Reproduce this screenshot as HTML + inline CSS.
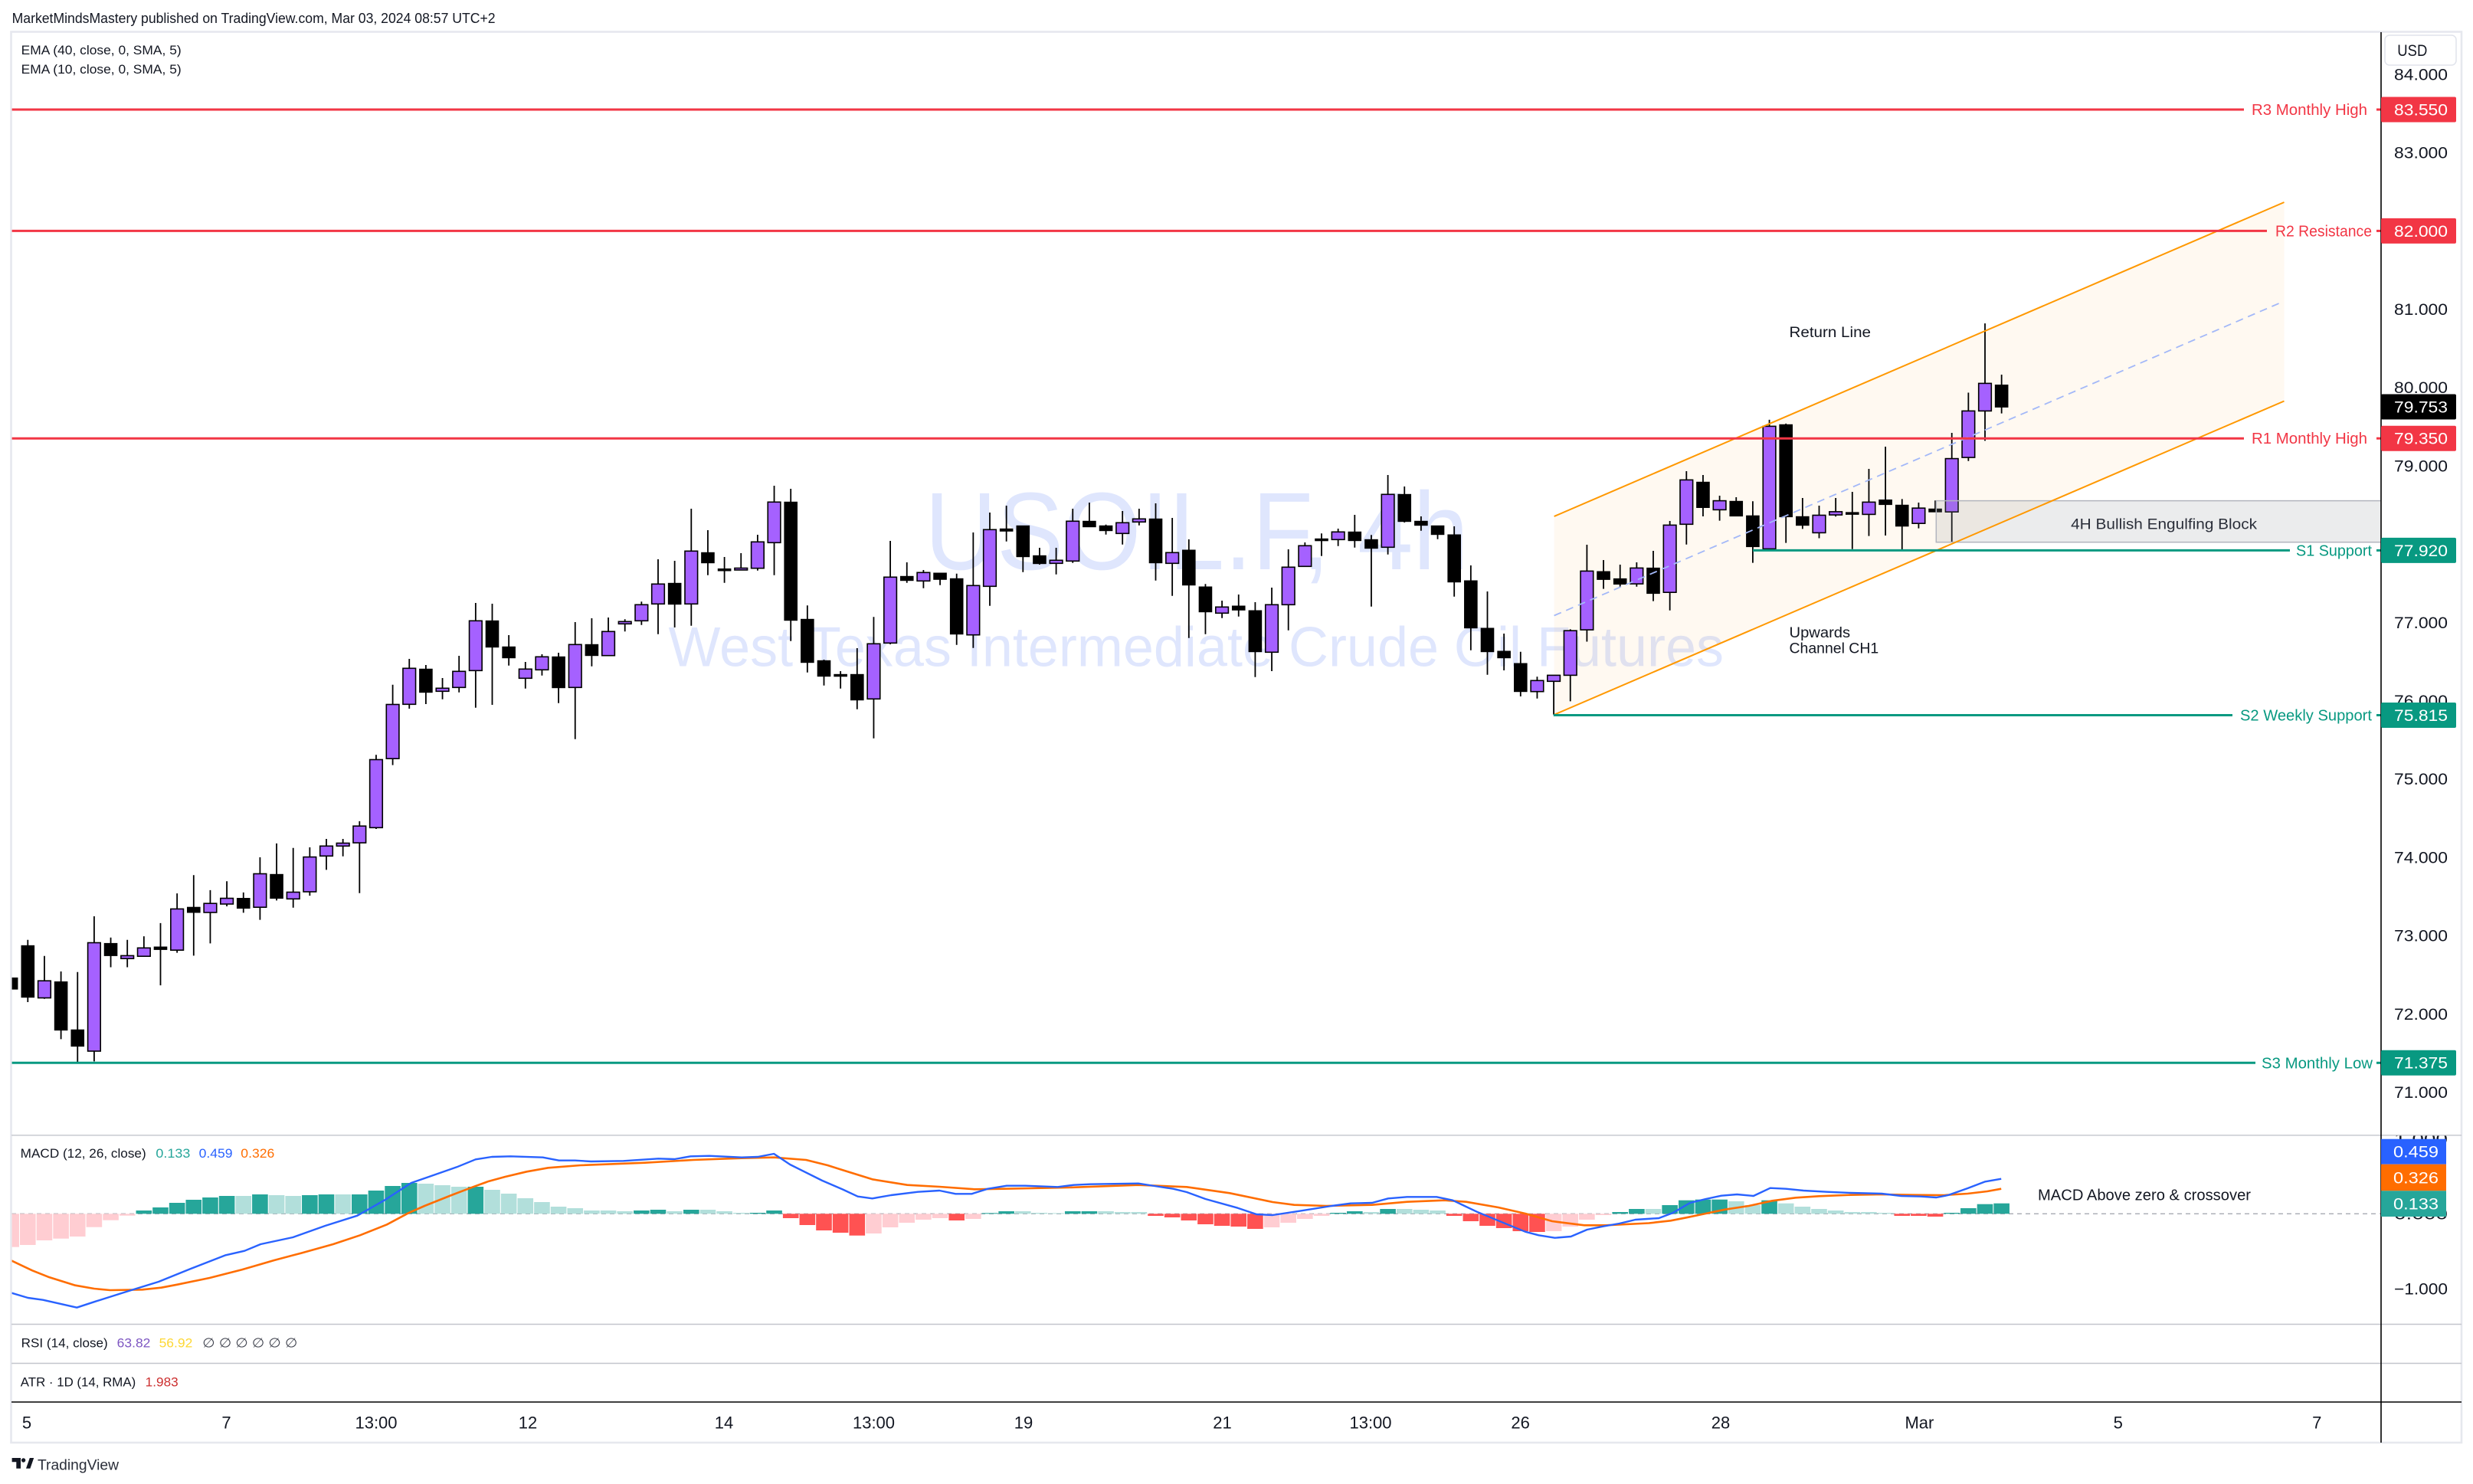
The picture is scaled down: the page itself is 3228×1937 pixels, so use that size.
<!DOCTYPE html>
<html><head><meta charset="utf-8"><title>USOIL.F 4h</title>
<style>
html,body{margin:0;padding:0;background:#fff;overflow:hidden}
svg{display:block}
text{font-family:"Liberation Sans",sans-serif}
</style></head>
<body>
<svg xmlns="http://www.w3.org/2000/svg" width="3228" height="1937" viewBox="0 0 3228 1937">
<defs>
<clipPath id="mainclip"><rect x="15.6" y="42" width="3092.4" height="1439"/></clipPath>
<clipPath id="macdclip"><rect x="15.6" y="1482.5" width="3092.4" height="245.5"/></clipPath>
<clipPath id="macdaxis"><rect x="3108" y="1482.5" width="105" height="245.5"/></clipPath>
</defs>
<rect x="0" y="0" width="3228" height="1937" fill="#fff"/>

<!-- header -->
<text x="15.6" y="29.8" font-size="18" fill="#131722" textLength="631" lengthAdjust="spacingAndGlyphs">MarketMindsMastery published on TradingView.com, Mar 03, 2024 08:57 UTC+2</text>

<!-- frame -->
<rect x="14.5" y="41.5" width="3198.5" height="1841.5" fill="none" stroke="#e6e8ee" stroke-width="2.6"/>

<!-- ===== MAIN PANE ===== -->
<g clip-path="url(#mainclip)">
  <!-- watermark -->
  <text x="1207" y="743" font-size="144" fill="#dfe6fd" textLength="710" lengthAdjust="spacingAndGlyphs">USOIL.F, 4h</text>
  <text x="872.5" y="869.6" font-size="73" fill="#dfe6fd" textLength="1377.5" lengthAdjust="spacingAndGlyphs">West Texas Intermediate Crude Oil Futures</text>

  <!-- channel fill -->
  <polygon points="2028.6,674 2981.5,264 2981.5,523.5 2028.6,932.9" fill="#ff9800" fill-opacity="0.055"/>

  <!-- candles: wicks -->
  <path fill="none" stroke="#000" stroke-width="1.8" d="M14.65 1276.4V1291.1M36.3 1226.8V1308M57.95 1247.8V1303.8M79.6 1268V1356.4M101.25 1268.8V1387.1M122.9 1196V1385.4M144.55 1223.8V1262.5M166.2 1226.8V1262.5M187.85 1222.1V1248.2M209.5 1204.9V1286.1M231.15 1166.1V1243.6M252.8 1142.2V1247.4M274.45 1161.9V1231.4M296.1 1150.2V1183M317.75 1164.9V1191.4M339.4 1119V1200.6M361.05 1100.9V1175.4M382.7 1106.8V1184.7M404.35 1106V1169.1M426 1095V1135.4M447.65 1095V1117.7M469.3 1071.9V1165.7M490.95 985.2V1082M512.6 893.8V998.6M534.25 860V925M555.9 868V919M577.55 885V912.7M599.2 856V903.7M620.85 787V923.7M642.5 788V920M664.15 829V868.7M685.8 864V898.7M707.45 854V881.7M729.1 852V917.7M750.75 812V964.7M772.4 807V869.7M794.05 806V856.3M815.7 808.3V824.3M837.35 785.3V815.7M859 730V827.7M880.65 732V819M902.3 664V816.7M923.95 692V750.7M945.6 727V760.7M967.25 722V743.7M988.9 698V744.7M1010.55 634V750.7M1032.2 638V836.7M1053.85 790.3V877.7M1075.5 861V894.7M1097.15 876V898.7M1118.8 846V925.7M1140.45 805.3V963.7M1162.1 706V841M1183.75 734V760.7M1205.4 744V767.7M1227.05 748V763.7M1248.7 748.7V841.7M1270.35 695V845.7M1292 669V790.7M1313.65 660V706.7M1335.3 686V746.7M1356.95 715V737M1378.6 715V749.7M1400.25 664V734.7M1421.9 656V687.7M1443.55 684.7V697.7M1465.2 667V710.7M1486.85 664V685.7M1508.5 657V757.7M1530.15 676V777.7M1551.8 704V832.7M1573.45 762.3V827.7M1595.1 784V806.7M1616.75 776V804.7M1638.4 786V883.7M1660.05 767V876M1681.7 717V822.7M1703.35 708V739.3M1725 696.3V725.7M1746.65 690V712.7M1768.3 672V714.7M1789.95 698.3V791.7M1811.6 620V723.7M1833.25 635V682M1854.9 674V692.7M1876.55 686V703.7M1898.2 687V778.7M1919.85 738V848.7M1941.5 772V880.7M1963.15 827V875M1984.8 850.7V909M2006.45 883.3V911.7M2028.1 881.4V932.9M2049.75 821.4V915.4M2071.4 711V837.5M2093.05 731V768.6M2114.7 737V766M2136.35 734V765.7M2158 719V784.6M2179.65 680V796.8M2201.3 615V710.7M2222.95 620V674M2244.6 647V679.6M2266.25 649V673.6M2287.9 654.3V734.6M2309.55 547.9V719.3M2331.2 552.9V708.6M2352.85 650V690.4M2374.5 660V702.5M2396.15 650V674.3M2417.8 642V716.8M2439.45 612V699.6M2461.1 583V699M2482.75 651.4V718.6M2504.4 656V689.6M2526.05 653.2V668.2M2547.7 565V707M2569.35 512.5V601.8M2591 422.1V575.4M2612.65 489V539.6"/>

  <!-- black bodies -->
  <g fill="#000" stroke="#000" stroke-width="1">
    <rect x="6.35" y="1276.4" width="16.6" height="14.7"/>
    <rect x="28" y="1234.3" width="16.6" height="67.4"/>
    <rect x="71.3" y="1281.5" width="16.6" height="63.1"/>
    <rect x="92.95" y="1344.2" width="16.6" height="21.4"/>
    <rect x="136.25" y="1231.4" width="16.6" height="16"/>
    <rect x="201.2" y="1236" width="16.6" height="3.4"/>
    <rect x="244.5" y="1184.2" width="16.6" height="6.8"/>
    <rect x="309.45" y="1172.5" width="16.6" height="13"/>
    <rect x="352.75" y="1141.3" width="16.6" height="31.2"/>
    <rect x="547.6" y="873.3" width="16.6" height="30.4"/>
    <rect x="634.2" y="810.3" width="16.6" height="34.4"/>
    <rect x="655.85" y="844.3" width="16.6" height="14.4"/>
    <rect x="720.8" y="857.3" width="16.6" height="40.4"/>
    <rect x="764.1" y="841.3" width="16.6" height="14.4"/>
    <rect x="872.35" y="761.3" width="16.6" height="27.4"/>
    <rect x="915.65" y="721.3" width="16.6" height="13.4"/>
    <rect x="937.3" y="742.5" width="16.6" height="2.5"/>
    <rect x="1023.9" y="655.3" width="16.6" height="154.4"/>
    <rect x="1045.55" y="808.3" width="16.6" height="56.4"/>
    <rect x="1067.2" y="862.3" width="16.6" height="20.4"/>
    <rect x="1088.85" y="880.3" width="16.6" height="2.5"/>
    <rect x="1110.5" y="880.3" width="16.6" height="33.4"/>
    <rect x="1175.45" y="752.3" width="16.6" height="5.4"/>
    <rect x="1218.75" y="748" width="16.6" height="8.3"/>
    <rect x="1240.4" y="755.3" width="16.6" height="72.4"/>
    <rect x="1305.35" y="690.3" width="16.6" height="3"/>
    <rect x="1327" y="686.3" width="16.6" height="40.4"/>
    <rect x="1348.65" y="725.3" width="16.6" height="10.4"/>
    <rect x="1413.6" y="680.3" width="16.6" height="7.4"/>
    <rect x="1435.25" y="686.3" width="16.6" height="6.4"/>
    <rect x="1500.2" y="677.3" width="16.6" height="57.4"/>
    <rect x="1543.5" y="718" width="16.6" height="45.7"/>
    <rect x="1565.15" y="766" width="16.6" height="32.7"/>
    <rect x="1608.45" y="791" width="16.6" height="5.3"/>
    <rect x="1630.1" y="797" width="16.6" height="53.7"/>
    <rect x="1716.7" y="703.3" width="16.6" height="2.5"/>
    <rect x="1760" y="694.3" width="16.6" height="11.4"/>
    <rect x="1781.65" y="704.3" width="16.6" height="11.4"/>
    <rect x="1824.95" y="645.3" width="16.6" height="35.4"/>
    <rect x="1846.6" y="680.3" width="16.6" height="5.4"/>
    <rect x="1868.25" y="686.3" width="16.6" height="11.4"/>
    <rect x="1889.9" y="698" width="16.6" height="61.7"/>
    <rect x="1911.55" y="758" width="16.6" height="61.7"/>
    <rect x="1933.2" y="820" width="16.6" height="30.7"/>
    <rect x="1954.85" y="850" width="16.6" height="8.7"/>
    <rect x="1976.5" y="866" width="16.6" height="36.7"/>
    <rect x="2084.75" y="746" width="16.6" height="10.4"/>
    <rect x="2106.4" y="755.4" width="16.6" height="7.1"/>
    <rect x="2149.7" y="741.4" width="16.6" height="33.2"/>
    <rect x="2214.65" y="629.3" width="16.6" height="33.2"/>
    <rect x="2257.95" y="654.3" width="16.6" height="19.3"/>
    <rect x="2279.6" y="673.2" width="16.6" height="40.4"/>
    <rect x="2322.9" y="554.3" width="16.6" height="120.3"/>
    <rect x="2344.55" y="674.3" width="16.6" height="11.4"/>
    <rect x="2409.5" y="668.9" width="16.6" height="2.5"/>
    <rect x="2452.8" y="652.5" width="16.6" height="6.1"/>
    <rect x="2474.45" y="659.3" width="16.6" height="27.5"/>
    <rect x="2517.75" y="664.3" width="16.6" height="3.9"/>
    <rect x="2604.35" y="502.5" width="16.6" height="28.9"/>
  </g>
  <!-- purple bodies -->
  <g fill="#a561ff" stroke="#000" stroke-width="1.6">
    <rect x="49.65" y="1280.2" width="16.6" height="22.3"/>
    <rect x="114.6" y="1230.5" width="16.6" height="141.5"/>
    <rect x="157.9" y="1247.4" width="16.6" height="3.8"/>
    <rect x="179.55" y="1237.3" width="16.6" height="10.9"/>
    <rect x="222.85" y="1186.4" width="16.6" height="53.8"/>
    <rect x="266.15" y="1179.2" width="16.6" height="11.8"/>
    <rect x="287.8" y="1172.5" width="16.6" height="7.5"/>
    <rect x="331.1" y="1140.5" width="16.6" height="43.7"/>
    <rect x="374.4" y="1164.5" width="16.6" height="8.8"/>
    <rect x="396.05" y="1118.6" width="16.6" height="45.4"/>
    <rect x="417.7" y="1104.3" width="16.6" height="13"/>
    <rect x="439.35" y="1100.5" width="16.6" height="3.8"/>
    <rect x="461" y="1078.2" width="16.6" height="21.9"/>
    <rect x="482.65" y="991.5" width="16.6" height="88.8"/>
    <rect x="504.3" y="919.5" width="16.6" height="70.7"/>
    <rect x="525.95" y="872.3" width="16.6" height="47"/>
    <rect x="569.25" y="898.3" width="16.6" height="4"/>
    <rect x="590.9" y="876.3" width="16.6" height="21"/>
    <rect x="612.55" y="810.3" width="16.6" height="65"/>
    <rect x="677.5" y="873.3" width="16.6" height="12"/>
    <rect x="699.15" y="857.3" width="16.6" height="17"/>
    <rect x="742.45" y="841.3" width="16.6" height="56"/>
    <rect x="785.75" y="824.3" width="16.6" height="31.4"/>
    <rect x="807.4" y="811.3" width="16.6" height="3"/>
    <rect x="829.05" y="789.3" width="16.6" height="21"/>
    <rect x="850.7" y="762.3" width="16.6" height="26"/>
    <rect x="894" y="719.3" width="16.6" height="69"/>
    <rect x="958.95" y="741.5" width="16.6" height="2.5"/>
    <rect x="980.6" y="707.3" width="16.6" height="34.4"/>
    <rect x="1002.25" y="655.3" width="16.6" height="53"/>
    <rect x="1132.15" y="840.3" width="16.6" height="72"/>
    <rect x="1153.8" y="753.3" width="16.6" height="86"/>
    <rect x="1197.1" y="747.3" width="16.6" height="11"/>
    <rect x="1262.05" y="764.3" width="16.6" height="64.4"/>
    <rect x="1283.7" y="691.3" width="16.6" height="74"/>
    <rect x="1370.3" y="731.3" width="16.6" height="4"/>
    <rect x="1391.95" y="680.3" width="16.6" height="52"/>
    <rect x="1456.9" y="682.3" width="16.6" height="14"/>
    <rect x="1478.55" y="677.3" width="16.6" height="4"/>
    <rect x="1521.85" y="721.3" width="16.6" height="14"/>
    <rect x="1586.8" y="792.3" width="16.6" height="8"/>
    <rect x="1651.75" y="789.3" width="16.6" height="62"/>
    <rect x="1673.4" y="740.3" width="16.6" height="49"/>
    <rect x="1695.05" y="712.3" width="16.6" height="27"/>
    <rect x="1738.35" y="694.3" width="16.6" height="10"/>
    <rect x="1803.3" y="645.3" width="16.6" height="69"/>
    <rect x="1998.15" y="888.3" width="16.6" height="14.4"/>
    <rect x="2019.8" y="881.4" width="16.6" height="7.9"/>
    <rect x="2041.45" y="823.2" width="16.6" height="58.2"/>
    <rect x="2063.1" y="745.4" width="16.6" height="76.7"/>
    <rect x="2128.05" y="741.4" width="16.6" height="20.7"/>
    <rect x="2171.35" y="685.4" width="16.6" height="87.8"/>
    <rect x="2193" y="626.4" width="16.6" height="57.9"/>
    <rect x="2236.3" y="653.6" width="16.6" height="11.8"/>
    <rect x="2301.25" y="556.4" width="16.6" height="160"/>
    <rect x="2366.2" y="672.5" width="16.6" height="22.9"/>
    <rect x="2387.85" y="667.9" width="16.6" height="4.2"/>
    <rect x="2431.15" y="655.4" width="16.6" height="16"/>
    <rect x="2496.1" y="663.2" width="16.6" height="20"/>
    <rect x="2539.4" y="598.6" width="16.6" height="69.6"/>
    <rect x="2561.05" y="536.4" width="16.6" height="60.7"/>
    <rect x="2582.7" y="500.4" width="16.6" height="36"/>
  </g>

  <!-- 4H Bullish Engulfing Block -->
  <rect x="2527.3" y="653.6" width="590" height="54.1" fill="#9598a1" fill-opacity="0.19" stroke="#b2b5be" stroke-width="1.5"/>
  <text x="2824.6" y="690.5" font-size="19" fill="#2a2e39" text-anchor="middle" textLength="243" lengthAdjust="spacingAndGlyphs">4H Bullish Engulfing Block</text>

  <!-- channel lines -->
  <line x1="2028.6" y1="674" x2="2981.5" y2="264" stroke="#ff9800" stroke-width="2"/>
  <line x1="2028.6" y1="932.9" x2="2981.5" y2="523.5" stroke="#ff9800" stroke-width="2"/>
  <line x1="2028.6" y1="803.5" x2="2977" y2="395" stroke="#a3b8f8" stroke-width="1.8" stroke-dasharray="10 7"/>

  <!-- horizontal levels -->
  <g stroke="#f23645" stroke-width="3">
    <line x1="0" y1="143" x2="2929" y2="143"/><line x1="3102" y1="143" x2="3108" y2="143"/>
    <line x1="0" y1="301.4" x2="2959" y2="301.4"/><line x1="3102" y1="301.4" x2="3108" y2="301.4"/>
    <line x1="0" y1="572.2" x2="2929" y2="572.2"/><line x1="3102" y1="572.2" x2="3108" y2="572.2"/>
  </g>
  <g stroke="#089981" stroke-width="3">
    <line x1="2288" y1="718.4" x2="2989" y2="718.4"/><line x1="3102" y1="718.4" x2="3108" y2="718.4"/>
    <line x1="2027.8" y1="933.5" x2="2914" y2="933.5"/><line x1="3102" y1="933.5" x2="3108" y2="933.5"/>
    <line x1="0" y1="1387.3" x2="2944" y2="1387.3"/><line x1="3102" y1="1387.3" x2="3108" y2="1387.3"/>
  </g>
  <g font-size="20">
    <text x="2939" y="150" fill="#f23645" textLength="151" lengthAdjust="spacingAndGlyphs">R3 Monthly High</text>
    <text x="2970" y="308.4" fill="#f23645" textLength="126" lengthAdjust="spacingAndGlyphs">R2 Resistance</text>
    <text x="2939" y="579.2" fill="#f23645" textLength="151" lengthAdjust="spacingAndGlyphs">R1 Monthly High</text>
    <text x="2997" y="725.4" fill="#089981" textLength="99" lengthAdjust="spacingAndGlyphs">S1 Support</text>
    <text x="2924" y="940.5" fill="#089981" textLength="172" lengthAdjust="spacingAndGlyphs">S2 Weekly Support</text>
    <text x="2952" y="1394.3" fill="#089981" textLength="145" lengthAdjust="spacingAndGlyphs">S3 Monthly Low</text>
  </g>

  <!-- annotations -->
  <g font-size="19" fill="#131722">
    <text x="2335.5" y="440" textLength="106.5" lengthAdjust="spacingAndGlyphs">Return Line</text>
    <text x="2335.5" y="832" textLength="79.6" lengthAdjust="spacingAndGlyphs">Upwards</text>
    <text x="2335.5" y="852.7" textLength="116.7" lengthAdjust="spacingAndGlyphs">Channel CH1</text>
  </g>
</g>

<!-- legends main -->
<g font-size="17" fill="#131722">
  <text x="27.7" y="71" textLength="209" lengthAdjust="spacingAndGlyphs">EMA (40, close, 0, SMA, 5)</text>
  <text x="27.7" y="96" textLength="209" lengthAdjust="spacingAndGlyphs">EMA (10, close, 0, SMA, 5)</text>
</g>

<!-- ===== MACD PANE ===== -->
<g clip-path="url(#macdclip)">
  <line x1="15" y1="1584.3" x2="3108" y2="1584.3" stroke="#a7aab3" stroke-width="1.4" stroke-dasharray="6 5"/>
  <!-- pink (rising negative) -->
  <g fill="#ffcdd2">
    <rect x="4.35" y="1584.3" width="20.6" height="43.4"/>
    <rect x="26" y="1584.3" width="20.6" height="40.7"/>
    <rect x="47.65" y="1584.3" width="20.6" height="34.7"/>
    <rect x="69.3" y="1584.3" width="20.6" height="32.4"/>
    <rect x="90.95" y="1584.3" width="20.6" height="29.7"/>
    <rect x="112.6" y="1584.3" width="20.6" height="17.4"/>
    <rect x="134.25" y="1584.3" width="20.6" height="8.4"/>
    <rect x="155.9" y="1584.3" width="20.6" height="2.4"/>
    <rect x="1130.15" y="1584.3" width="20.6" height="25.7"/>
    <rect x="1151.8" y="1584.3" width="20.6" height="17.7"/>
    <rect x="1173.45" y="1584.3" width="20.6" height="11.7"/>
    <rect x="1195.1" y="1584.3" width="20.6" height="7.7"/>
    <rect x="1216.75" y="1584.3" width="20.6" height="5.7"/>
    <rect x="1260.05" y="1584.3" width="20.6" height="6.7"/>
    <rect x="1649.75" y="1584.3" width="20.6" height="17.7"/>
    <rect x="1671.4" y="1584.3" width="20.6" height="11.7"/>
    <rect x="1693.05" y="1584.3" width="20.6" height="6.7"/>
    <rect x="1714.7" y="1584.3" width="20.6" height="2.7"/>
    <rect x="2017.8" y="1584.3" width="20.6" height="22.7"/>
    <rect x="2039.45" y="1584.3" width="20.6" height="16.7"/>
    <rect x="2061.1" y="1584.3" width="20.6" height="7.7"/>
    <rect x="2082.75" y="1584.3" width="20.6" height="1.7"/>
  </g>
  <!-- red (falling negative) -->
  <g fill="#ff5252">
    <rect x="1021.9" y="1584.3" width="20.6" height="5.7"/>
    <rect x="1043.55" y="1584.3" width="20.6" height="14.7"/>
    <rect x="1065.2" y="1584.3" width="20.6" height="21.7"/>
    <rect x="1086.85" y="1584.3" width="20.6" height="24.7"/>
    <rect x="1108.5" y="1584.3" width="20.6" height="28.4"/>
    <rect x="1238.4" y="1584.3" width="20.6" height="8.7"/>
    <rect x="1498.2" y="1584.3" width="20.6" height="2.7"/>
    <rect x="1519.85" y="1584.3" width="20.6" height="4.7"/>
    <rect x="1541.5" y="1584.3" width="20.6" height="8.7"/>
    <rect x="1563.15" y="1584.3" width="20.6" height="13.7"/>
    <rect x="1584.8" y="1584.3" width="20.6" height="15.7"/>
    <rect x="1606.45" y="1584.3" width="20.6" height="16.7"/>
    <rect x="1628.1" y="1584.3" width="20.6" height="19.7"/>
    <rect x="1887.9" y="1584.3" width="20.6" height="2.7"/>
    <rect x="1909.55" y="1584.3" width="20.6" height="9.7"/>
    <rect x="1931.2" y="1584.3" width="20.6" height="15.7"/>
    <rect x="1952.85" y="1584.3" width="20.6" height="18.7"/>
    <rect x="1974.5" y="1584.3" width="20.6" height="22.7"/>
    <rect x="1996.15" y="1584.3" width="20.6" height="23.7"/>
    <rect x="2472.45" y="1584.3" width="20.6" height="2.7"/>
    <rect x="2494.1" y="1584.3" width="20.6" height="2.7"/>
    <rect x="2515.75" y="1584.3" width="20.6" height="3.7"/>
  </g>
  <!-- dark teal (rising positive) -->
  <g fill="#26a69a">
    <rect x="177.55" y="1580" width="20.6" height="4.3"/>
    <rect x="199.2" y="1576" width="20.6" height="8.3"/>
    <rect x="220.85" y="1570" width="20.6" height="14.3"/>
    <rect x="242.5" y="1566" width="20.6" height="18.3"/>
    <rect x="264.15" y="1563" width="20.6" height="21.3"/>
    <rect x="285.8" y="1561" width="20.6" height="23.3"/>
    <rect x="329.1" y="1559" width="20.6" height="25.3"/>
    <rect x="394.05" y="1560" width="20.6" height="24.3"/>
    <rect x="415.7" y="1559" width="20.6" height="25.3"/>
    <rect x="459" y="1559" width="20.6" height="25.3"/>
    <rect x="480.65" y="1554" width="20.6" height="30.3"/>
    <rect x="502.3" y="1548" width="20.6" height="36.3"/>
    <rect x="523.95" y="1544" width="20.6" height="40.3"/>
    <rect x="610.55" y="1549" width="20.6" height="35.3"/>
    <rect x="827.05" y="1580" width="20.6" height="4.3"/>
    <rect x="848.7" y="1579" width="20.6" height="5.3"/>
    <rect x="892" y="1579" width="20.6" height="5.3"/>
    <rect x="978.6" y="1583" width="20.6" height="1.3"/>
    <rect x="1000.25" y="1580" width="20.6" height="4.3"/>
    <rect x="1281.7" y="1583.3" width="20.6" height="1"/>
    <rect x="1303.35" y="1581" width="20.6" height="3.3"/>
    <rect x="1389.95" y="1581" width="20.6" height="3.3"/>
    <rect x="1411.6" y="1581" width="20.6" height="3.3"/>
    <rect x="1736.35" y="1583" width="20.6" height="1.3"/>
    <rect x="1758" y="1581" width="20.6" height="3.3"/>
    <rect x="1801.3" y="1578" width="20.6" height="6.3"/>
    <rect x="2104.4" y="1582" width="20.6" height="2.3"/>
    <rect x="2126.05" y="1578" width="20.6" height="6.3"/>
    <rect x="2169.35" y="1573" width="20.6" height="11.3"/>
    <rect x="2191" y="1566.7" width="20.6" height="17.6"/>
    <rect x="2212.65" y="1565.7" width="20.6" height="18.6"/>
    <rect x="2234.3" y="1565.7" width="20.6" height="18.6"/>
    <rect x="2299.25" y="1566.7" width="20.6" height="17.6"/>
    <rect x="2537.4" y="1583" width="20.6" height="1.3"/>
    <rect x="2559.05" y="1577" width="20.6" height="7.3"/>
    <rect x="2580.7" y="1571.7" width="20.6" height="12.6"/>
    <rect x="2602.35" y="1570.7" width="20.6" height="13.6"/>
  </g>
  <!-- light teal (falling positive) -->
  <g fill="#b2dfdb">
    <rect x="307.45" y="1561" width="20.6" height="23.3"/>
    <rect x="350.75" y="1560" width="20.6" height="24.3"/>
    <rect x="372.4" y="1561" width="20.6" height="23.3"/>
    <rect x="437.35" y="1559" width="20.6" height="25.3"/>
    <rect x="545.6" y="1545" width="20.6" height="39.3"/>
    <rect x="567.25" y="1547" width="20.6" height="37.3"/>
    <rect x="588.9" y="1549" width="20.6" height="35.3"/>
    <rect x="632.2" y="1553" width="20.6" height="31.3"/>
    <rect x="653.85" y="1558" width="20.6" height="26.3"/>
    <rect x="675.5" y="1564" width="20.6" height="20.3"/>
    <rect x="697.15" y="1569" width="20.6" height="15.3"/>
    <rect x="718.8" y="1575" width="20.6" height="9.3"/>
    <rect x="740.45" y="1577" width="20.6" height="7.3"/>
    <rect x="762.1" y="1580" width="20.6" height="4.3"/>
    <rect x="783.75" y="1580" width="20.6" height="4.3"/>
    <rect x="805.4" y="1581" width="20.6" height="3.3"/>
    <rect x="870.35" y="1581" width="20.6" height="3.3"/>
    <rect x="913.65" y="1579" width="20.6" height="5.3"/>
    <rect x="935.3" y="1581" width="20.6" height="3.3"/>
    <rect x="956.95" y="1583" width="20.6" height="1.3"/>
    <rect x="1325" y="1581" width="20.6" height="3.3"/>
    <rect x="1346.65" y="1583" width="20.6" height="1.3"/>
    <rect x="1368.3" y="1583.4" width="20.6" height="0.9"/>
    <rect x="1433.25" y="1581" width="20.6" height="3.3"/>
    <rect x="1454.9" y="1582" width="20.6" height="2.3"/>
    <rect x="1476.55" y="1582" width="20.6" height="2.3"/>
    <rect x="1779.65" y="1582" width="20.6" height="2.3"/>
    <rect x="1822.95" y="1578" width="20.6" height="6.3"/>
    <rect x="1844.6" y="1579" width="20.6" height="5.3"/>
    <rect x="1866.25" y="1580" width="20.6" height="4.3"/>
    <rect x="2147.7" y="1578" width="20.6" height="6.3"/>
    <rect x="2255.95" y="1568" width="20.6" height="16.3"/>
    <rect x="2277.6" y="1573" width="20.6" height="11.3"/>
    <rect x="2320.9" y="1570.7" width="20.6" height="13.6"/>
    <rect x="2342.55" y="1575" width="20.6" height="9.3"/>
    <rect x="2364.2" y="1578" width="20.6" height="6.3"/>
    <rect x="2385.85" y="1580" width="20.6" height="4.3"/>
    <rect x="2407.5" y="1582" width="20.6" height="2.3"/>
    <rect x="2429.15" y="1582" width="20.6" height="2.3"/>
    <rect x="2450.8" y="1583" width="20.6" height="1.3"/>
  </g>
  <!-- signal line -->
  <polyline fill="none" stroke="#ff6d00" stroke-width="2.6" stroke-linejoin="round" points="14,1645 42.1,1658.3 63.1,1666.7 98.2,1677.7 122.8,1682 143.8,1684 185.9,1683.3 210.5,1680.7 231.5,1676.7 273.6,1668 315.7,1657.3 357.8,1645 392.8,1635.7 434.9,1624 470,1612.3 505.1,1598.3 533.1,1583.3 554.2,1574 589.3,1560 617.3,1549.3 638.4,1541.7 659.4,1536 687.5,1529.3 715.5,1524.3 757.6,1521 841.8,1517.7 905,1514 968,1511.7 1010.2,1510.7 1052.2,1514 1080.3,1521 1100,1527.3 1138.6,1539.3 1184.2,1546.7 1226.3,1549 1271.9,1552.3 1310.5,1551.7 1394.6,1550 1485.8,1546.7 1549,1549.3 1605.1,1557.3 1661.2,1569 1689.3,1572.7 1731.4,1574 1791,1572.7 1836.6,1568.7 1885.7,1566.7 1913.8,1568.7 1955.8,1576 1990.9,1584 2026,1594 2068.1,1599.3 2096.2,1599.3 2152.3,1596.5 2180.6,1593.3 2201,1589.3 2226.5,1584 2252,1578.7 2282.7,1574 2313.3,1567.3 2343.9,1563.3 2374.5,1561.3 2415.3,1559.7 2456.1,1559 2496.9,1559.7 2537.8,1560 2568.4,1558 2593.9,1555 2612.2,1551.7"/>
  <!-- MACD line -->
  <polyline fill="none" stroke="#2962ff" stroke-width="2.4" stroke-linejoin="round" points="14,1687.3 36.5,1694 56,1696.7 100.3,1706.7 122.8,1699.3 164.9,1686 207,1673 249,1656 294.6,1638.3 319.2,1632.7 340.2,1624 382.3,1615 424.4,1600 466.5,1586.7 501.6,1566.7 536.7,1544 557.7,1536.7 596.3,1523.3 620.8,1513.3 641.9,1510 666.4,1509.3 708.5,1510.7 729.6,1514.7 750.6,1514.7 771.6,1516 813.8,1515.3 859.4,1512.3 880.4,1513 901.4,1509.3 926,1508.7 968,1510.7 989.1,1510 1010.2,1506 1031.2,1520 1073.3,1541 1100,1552.5 1119.6,1561.7 1138.6,1564.3 1163.1,1560 1198.2,1555.7 1226.3,1554 1247.3,1558.3 1268.4,1558.3 1289.4,1551.7 1314,1547.7 1338.5,1547.7 1380.6,1549.3 1401.6,1546.7 1422.7,1545.7 1485.8,1544.7 1506.9,1548 1531.4,1551.7 1549,1556 1573.5,1565 1615.6,1576.7 1640.2,1585 1661.2,1586 1696.3,1580.7 1738.4,1574 1762.9,1570.7 1791,1570 1812,1564.3 1836.6,1562.3 1875.2,1562.3 1896.2,1566.7 1927.8,1581.7 1955.8,1593.3 1990.9,1607.7 2008.4,1612.3 2029.5,1615.7 2050.5,1614 2071.6,1605 2092.6,1600.7 2113.7,1597 2134.7,1592 2150,1591 2165.3,1590 2183.2,1583.3 2206.1,1570 2226.5,1565 2246.9,1560.7 2267.3,1559 2288.8,1561 2310.7,1550.7 2331.1,1551.7 2354.1,1554 2384.7,1555.7 2415.3,1557 2456.1,1558 2481.6,1561 2507.1,1561.7 2527.6,1563 2542.9,1560 2568.4,1551 2591.3,1542.3 2612.2,1538.7"/>
  <text x="2660" y="1566.3" font-size="20" fill="#131722" textLength="278" lengthAdjust="spacingAndGlyphs">MACD Above zero &amp; crossover</text>
</g>
<g font-size="17">
  <text x="26.7" y="1511" fill="#131722" textLength="164" lengthAdjust="spacingAndGlyphs">MACD (12, 26, close)</text>
  <text x="203.4" y="1511" fill="#26a69a" textLength="45" lengthAdjust="spacingAndGlyphs">0.133</text>
  <text x="259.6" y="1511" fill="#2962ff" textLength="44" lengthAdjust="spacingAndGlyphs">0.459</text>
  <text x="314.3" y="1511" fill="#ff6d00" textLength="44" lengthAdjust="spacingAndGlyphs">0.326</text>
</g>

<!-- RSI / ATR legends -->
<g font-size="17">
  <text x="27.7" y="1758.7" fill="#131722" textLength="113" lengthAdjust="spacingAndGlyphs">RSI (14, close)</text>
  <text x="152.7" y="1758.7" fill="#7e57c2" textLength="43.7" lengthAdjust="spacingAndGlyphs">63.82</text>
  <text x="207.6" y="1758.7" fill="#fdd835" textLength="43.7" lengthAdjust="spacingAndGlyphs">56.92</text>
  <text x="264.3" y="1758.7" fill="#434651" textLength="124" lengthAdjust="spacingAndGlyphs">∅ ∅ ∅ ∅ ∅ ∅</text>
  <text x="26.8" y="1809.3" fill="#131722" textLength="150.4" lengthAdjust="spacingAndGlyphs">ATR · 1D (14, RMA)</text>
  <text x="189.7" y="1809.3" fill="#cc2f2f" textLength="43" lengthAdjust="spacingAndGlyphs">1.983</text>
</g>

<!-- pane separators -->
<g stroke="#c3c5cc" stroke-width="1.4">
  <line x1="15" y1="1481.8" x2="3213" y2="1481.8"/>
  <line x1="15" y1="1728.5" x2="3213" y2="1728.5"/>
  <line x1="15" y1="1779.5" x2="3213" y2="1779.5"/>
</g>
<line x1="15" y1="1830" x2="3213" y2="1830" stroke="#000" stroke-width="1.6"/>
<line x1="3108" y1="42" x2="3108" y2="1883" stroke="#000" stroke-width="1.6"/>

<!-- price axis ticks -->
<g font-size="21" fill="#131722" text-anchor="middle">
  <text x="3160" y="104.4" textLength="70" lengthAdjust="spacingAndGlyphs">84.000</text>
  <text x="3160" y="206.6" textLength="70" lengthAdjust="spacingAndGlyphs">83.000</text>
  <text x="3160" y="411" textLength="70" lengthAdjust="spacingAndGlyphs">81.000</text>
  <text x="3160" y="513.2" textLength="70" lengthAdjust="spacingAndGlyphs">80.000</text>
  <text x="3160" y="615.4" textLength="70" lengthAdjust="spacingAndGlyphs">79.000</text>
  <text x="3160" y="819.8" textLength="70" lengthAdjust="spacingAndGlyphs">77.000</text>
  <text x="3160" y="922" textLength="70" lengthAdjust="spacingAndGlyphs">76.000</text>
  <text x="3160" y="1024.2" textLength="70" lengthAdjust="spacingAndGlyphs">75.000</text>
  <text x="3160" y="1126.4" textLength="70" lengthAdjust="spacingAndGlyphs">74.000</text>
  <text x="3160" y="1228.6" textLength="70" lengthAdjust="spacingAndGlyphs">73.000</text>
  <text x="3160" y="1330.8" textLength="70" lengthAdjust="spacingAndGlyphs">72.000</text>
  <text x="3160" y="1433" textLength="70" lengthAdjust="spacingAndGlyphs">71.000</text>
</g>
<!-- USD box -->
<rect x="3113" y="46" width="93" height="39" rx="6" fill="#fff" stroke="#e0e3eb" stroke-width="1.5"/>
<text x="3129.3" y="72.8" font-size="21" fill="#131722" textLength="39" lengthAdjust="spacingAndGlyphs">USD</text>

<!-- price value labels -->
<g>
  <rect x="3108" y="126.5" width="98" height="33" rx="2" fill="#f23645"/>
  <rect x="3108" y="284.9" width="98" height="33" rx="2" fill="#f23645"/>
  <rect x="3108" y="514.5" width="98" height="33" rx="2" fill="#000"/>
  <rect x="3108" y="555.7" width="98" height="33" rx="2" fill="#f23645"/>
  <rect x="3108" y="701.9" width="98" height="33" rx="2" fill="#089981"/>
  <rect x="3108" y="917" width="98" height="33" rx="2" fill="#089981"/>
  <rect x="3108" y="1370.8" width="98" height="33" rx="2" fill="#089981"/>
</g>
<g font-size="21" fill="#fff" text-anchor="middle">
  <text x="3160" y="150.4" textLength="70" lengthAdjust="spacingAndGlyphs">83.550</text>
  <text x="3160" y="308.8" textLength="70" lengthAdjust="spacingAndGlyphs">82.000</text>
  <text x="3160" y="538.4" textLength="70" lengthAdjust="spacingAndGlyphs">79.753</text>
  <text x="3160" y="579.6" textLength="70" lengthAdjust="spacingAndGlyphs">79.350</text>
  <text x="3160" y="725.8" textLength="70" lengthAdjust="spacingAndGlyphs">77.920</text>
  <text x="3160" y="940.9" textLength="70" lengthAdjust="spacingAndGlyphs">75.815</text>
  <text x="3160" y="1394.7" textLength="70" lengthAdjust="spacingAndGlyphs">71.375</text>
</g>

<!-- MACD axis -->
<g clip-path="url(#macdaxis)" font-size="21" fill="#131722" text-anchor="middle">
  <text x="3160" y="1494.1" textLength="70" lengthAdjust="spacingAndGlyphs">1.000</text>
  <text x="3160" y="1591.7" textLength="70" lengthAdjust="spacingAndGlyphs">0.000</text>
  <text x="3160" y="1689.3" textLength="70" lengthAdjust="spacingAndGlyphs">−1.000</text>
  <rect x="3108" y="1486.7" width="85" height="33" fill="#2962ff"/>
  <rect x="3108" y="1519.7" width="85" height="34.6" fill="#ff6d00"/>
  <rect x="3108" y="1554.3" width="85" height="33.7" fill="#26a69a"/>
  <text x="3153.5" y="1510.6" fill="#fff" textLength="59" lengthAdjust="spacingAndGlyphs">0.459</text>
  <text x="3153.5" y="1544.4" fill="#fff" textLength="59" lengthAdjust="spacingAndGlyphs">0.326</text>
  <text x="3153.5" y="1578.6" fill="#fff" textLength="59" lengthAdjust="spacingAndGlyphs">0.133</text>
</g>

<!-- time axis -->
<g font-size="22" fill="#131722" text-anchor="middle">
  <text x="35" y="1864.7">5</text>
  <text x="295.5" y="1864.7">7</text>
  <text x="491" y="1864.7">13:00</text>
  <text x="689" y="1864.7">12</text>
  <text x="945" y="1864.7">14</text>
  <text x="1140.5" y="1864.7">13:00</text>
  <text x="1336" y="1864.7">19</text>
  <text x="1595.5" y="1864.7">21</text>
  <text x="1789" y="1864.7">13:00</text>
  <text x="1984.6" y="1864.7">26</text>
  <text x="2246" y="1864.7">28</text>
  <text x="2505.4" y="1864.7">Mar</text>
  <text x="2764.8" y="1864.7">5</text>
  <text x="3024.2" y="1864.7">7</text>
</g>

<!-- TradingView logo -->
<g fill="#131722">
  <path d="M15.6 1903H27V1916.7H21.3V1908.2H15.6Z"/>
  <circle cx="30.6" cy="1906" r="2.7"/>
  <path d="M34 1916.7L38.8 1903H44.2L39.4 1916.7Z"/>
  <text x="49" y="1918.7" font-size="19" fill="#2a2e39" textLength="106" lengthAdjust="spacingAndGlyphs">TradingView</text>
</g>
</svg>
</body></html>
